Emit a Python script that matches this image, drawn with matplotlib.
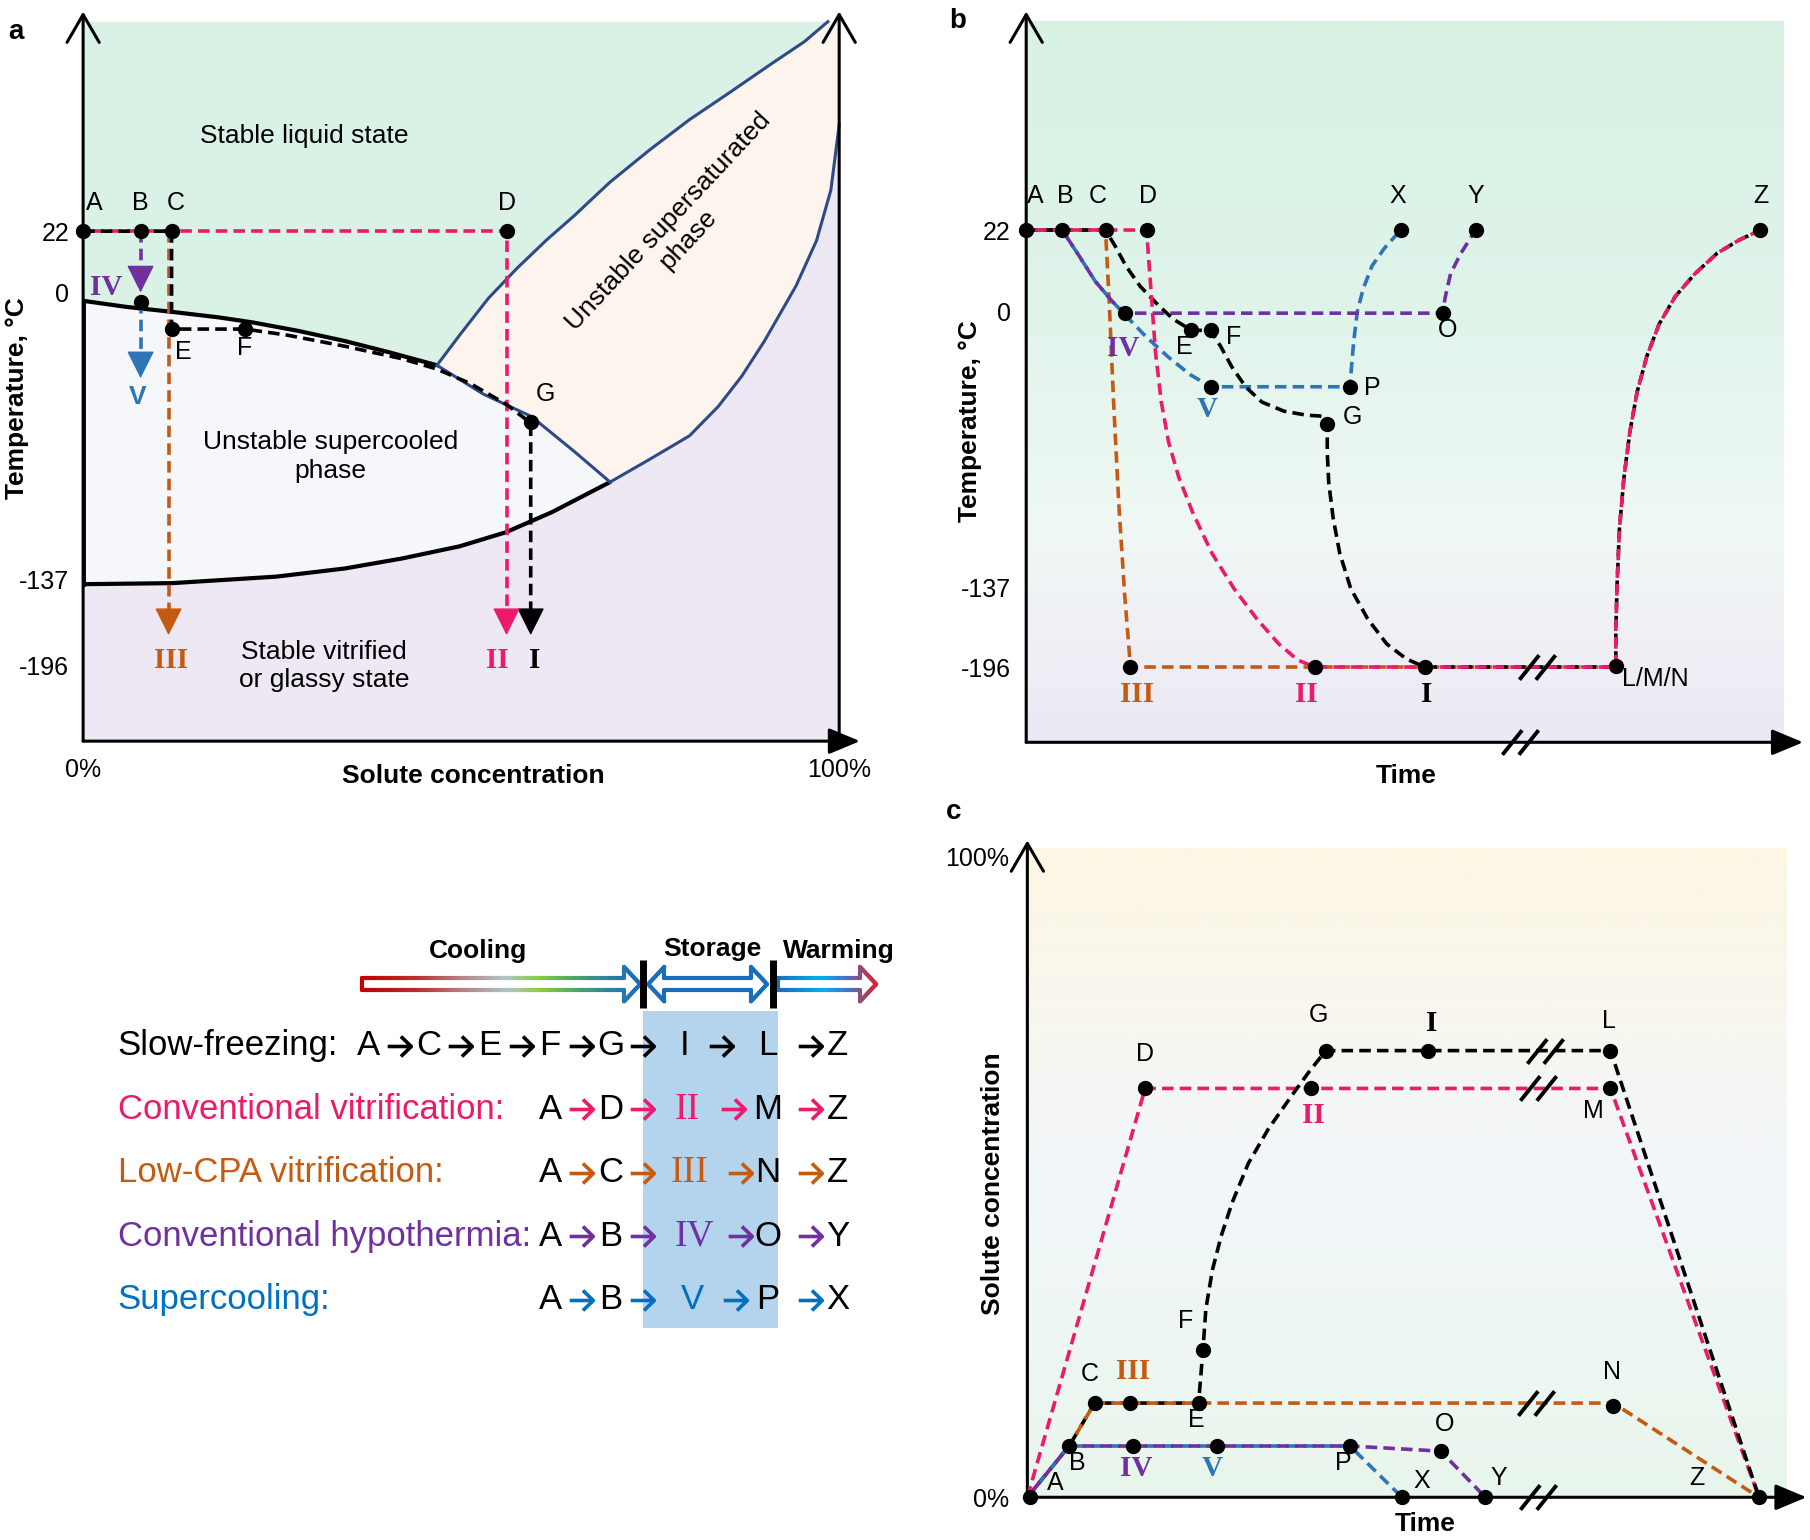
import numpy as np
import matplotlib.pyplot as plt
from matplotlib.collections import LineCollection
from matplotlib.colors import LinearSegmentedColormap
from matplotlib.patches import Rectangle
from matplotlib.path import Path

plt.rcParams['font.family'] = ['Liberation Sans', 'DejaVu Sans']
SERIF = ['Liberation Serif', 'DejaVu Serif']

PINK = '#ec1a6a'
ORANGE = '#c55a11'
PURPLE = '#7030a0'
BLUE = '#2e75b6'
TXTBLUE = '#0070c0'
EDGE = '#2e4a87'

TEMP_TICKS = [22, 0, -137, -196]

# ---------------- a: phase diagram (solute %, deg C) ----------------
a_anchor_T = [-250, -196, -137, 0, 22, 100]
a_anchor_h = [0, 0.103, 0.222, 0.615, 0.699, 1.0]

liq_x = [0, 5.7, 11.8, 17.9, 22.4, 28.5, 34.6, 40.7, 46.8]
liq_T = [-4.0, -6.9, -9.3, -11.9, -14.3, -18.4, -23.2, -28.8, -34.8]
satlo_x = [46.8, 52.9, 59.3, 65.0, 69.7]
satlo_T = [-34.8, -48.5, -59.3, -76.1, -90.6]
satl_x = [46.8, 49.8, 53.6, 57.4, 61.2, 65.0, 69.6, 74.9, 80.2, 85.6, 90.9, 95.4, 98.5]
satl_T = [-34.8, -20.4, -2.8, 8.7, 18.6, 27.6, 39.2, 50.8, 61.6, 71.4, 81.2, 89.3, 96.4]
satr_x = [69.7, 74.9, 80.2, 84.0, 87.1, 90.1, 94.3, 97.0, 98.9, 100, 100]
satr_T = [-90.6, -79.8, -68.5, -54.5, -40.1, -23.3, 2.4, 18.6, 36.6, 59.8, 96.4]
glass_x = [0, 11.8, 25.5, 34.6, 42.2, 49.8, 55.9, 62.0, 69.7]
glass_T = [-140.4, -139.7, -135.8, -131.9, -127.1, -121.3, -114.6, -105, -90.6]
a_top = 96.4
a_bottom = -250

a_pts_x = [0, 7.6, 11.7, 56.0, 7.6, 11.7, 21.4, 59.2]
a_pts_T = [22, 22, 22, 22, -4.5, -17.5, -17.5, -62]

a_slow_x = [0, 11.7, 11.7, 21.4, 27.0, 34.6, 42.2, 46.8, 51.3, 55.9, 59.2, 59.2]
a_slow_T = [22, 22, -17.5, -17.5, -20.4, -25.7, -31.7, -36.6, -43.7, -53.3, -62.4, -165]
a_vit_x = [0, 56.0, 56.0]
a_vit_T = [22, 22, -165]
a_cpa_x = [11.3, 11.3]
a_cpa_T = [22, -165]
a_hypo_x = [7.6, 7.6]
a_hypo_T = [22, 6]
a_sup_x = [7.6, 7.6]
a_sup_T = [-4.5, -32]
a_tip_x = [59.2, 56.0, 11.3, 7.6, 7.6]
a_tip_T = [-175, -175, -175, 0, -41]
a_tip_c = ['k', PINK, ORANGE, PURPLE, BLUE]

a_letters = [('A', 1.5, 32), ('B', 7.6, 32), ('C', 12.2, 32), ('D', 56, 32),
             ('E', 13.3, -28.6), ('F', 21.4, -26.5), ('G', 61.2, -48.5)]
a_romans = [('IV', 3.0, 1.8, PURPLE), ('III', 11.6, -192.5, ORANGE),
            ('II', 54.8, -192.5, PINK), ('I', 59.7, -192.5, 'k')]

# ---------------- b: temperature vs time ----------------
b_anchor_T = [-250, -196, -137, 0, 22, 80]
b_anchor_h = [0, 0.103, 0.212, 0.59, 0.701, 1.0]

b_warm_t = [80.3, 80.3, 80.5, 80.8, 81.4, 82.2, 83.2, 84.5, 86.2, 88.4, 91.1, 94.1, 97.1, 100]
b_warm_T = [-196, -167.7, -132.6, -107.6, -82.6, -60.1, -40.1, -22.6, -6.4, 4.0, 10.2, 15.7,
            19.3, 22]
b_slow_t = ([0, 4.9, 10.8, 12.1, 13.6, 15.5, 17.8, 20.0, 22.5, 25.1, 26.5, 28.0, 29.9, 32.1,
             35.1, 38.2, 40.4, 41.0, 41.0, 41.2, 41.8, 42.7, 44.2, 46.5, 49.1, 51.8, 54.3]
            + b_warm_t)
b_slow_T = ([22, 22, 22, 17.7, 12.2, 6.8, 2.0, -3.9, -9.5, -9.5, -17.6, -27.6, -37.6, -45.1,
             -49.6, -51.6, -52.1, -55.8, -69.9, -85, -102.6, -120.1, -137.9, -160.3, -178.9,
             -190.1, -196] + b_warm_T)
b_vit_t = ([0, 16.4, 16.7, 17.1, 17.6, 18.4, 19.4, 20.8, 22.7, 25.3, 28.3, 31.4, 34.4, 37.0,
            39.3] + b_warm_t)
b_vit_T = ([22, 22, 13.6, 2.7, -20.1, -45.1, -65.1, -82.6, -100.1, -120.1, -137.9, -160.3,
            -178.9, -190.9, -196] + b_warm_T)
b_cpa_t = [0, 10.8, 11.3, 11.9, 12.6, 13.4, 14.2, 80.3]
b_cpa_T = [22, 22, 2.7, -45.1, -95, -141.7, -196, -196]
b_hypo_t = [0, 4.9, 7.2, 9.4, 11.7, 13.5, 56.7, 57.1, 57.8, 59.2, 61.2]
b_hypo_T = [22, 22, 15.0, 8.1, 2.7, -1, -1, 4.1, 10.2, 15.7, 22]
b_sup_t = [0, 4.9, 7.2, 9.4, 11.7, 14.0, 16.3, 19.3, 22.3, 25.1, 44.1, 44.3, 44.6, 45.1,
           45.9, 47.1, 48.8, 51.0]
b_sup_T = [22, 22, 15.0, 8.1, 2.7, -3.9, -12.6, -22.6, -31.4, -37.5, -37.5, -27.6, -15.1, 0,
           6.1, 12.3, 17.1, 22]

b_pts_t = [0, 4.9, 10.8, 16.4, 51.0, 61.2, 100, 56.7, 13.5, 22.5, 25.1, 25.1, 44.1, 41.0,
           14.2, 39.3, 54.3, 80.3]
b_pts_T = [22, 22, 22, 22, 22, 22, 22, -1, -1, -9.5, -9.5, -37.5, -37.5, -55.8,
           -196, -196, -196, -195]
b_letters = [('A', 1.3, 31), ('B', 5.3, 31), ('C', 9.8, 31), ('D', 16.6, 31), ('X', 50.6, 31),
             ('Y', 61.2, 31), ('Z', 100, 31), ('O', 57.4, -9.4), ('E', 21.5, -17.7),
             ('F', 28.2, -13), ('P', 47.1, -38), ('G', 44.4, -52.5)]
b_romans = [('IV', 13.2, -18.4, PURPLE), ('V', 24.7, -48.7, BLUE), ('III', 15.1, -215.7, ORANGE),
            ('II', 38.2, -215.7, PINK), ('I', 54.6, -215.7, 'k')]
b_breaks_t = [69.5, 67.3]
b_breaks_T = [-196, -250]

# ---------------- c: solute concentration vs time ----------------
c_slow_t = [0, 5.7, 9.2, 23.4, 24.0, 24.4, 25.3, 26.5, 28.0, 30.2, 32.9, 35.9, 38.5, 40.8, 79.7, 100]
c_slow_c = [0, 8.0, 14.7, 14.7, 23.0, 29.4, 35.5, 40.8, 46.0, 52.1, 57.4, 62.3, 66.4, 69.7, 69.7, 0]
c_vit_t = [0, 16.1, 79.7, 100]
c_vit_c = [0, 63.8, 63.8, 0]
c_cpa_t = [0, 5.7, 9.2, 80.1, 100]
c_cpa_c = [0, 8.0, 14.7, 14.7, 0]
c_hypo_t = [0, 5.7, 44.1, 56.5, 62.6]
c_hypo_c = [0, 8.0, 8.0, 7.2, 0]
c_sup_t = [0, 5.7, 44.1, 51.2]
c_sup_c = [0, 8.0, 8.0, 0]

c_pts_t = [0.4, 5.7, 9.2, 14.0, 23.4, 24.0, 40.8, 54.8, 79.7, 16.1, 38.8, 79.7, 80.1,
           14.5, 25.9, 44.1, 56.5, 51.2, 62.6, 100]
c_pts_c = [0, 8.0, 14.7, 14.7, 14.7, 23.0, 69.7, 69.7, 69.7, 63.8, 63.8, 63.8, 14.3,
           8.0, 8.0, 8.0, 7.2, 0, 0, 0]
c_letters = [('D', 16.1, 69.1), ('G', 39.8, 75.3), ('L', 79.5, 74.3), ('M', 77.3, 60.2),
             ('F', 21.7, 27.5), ('C', 8.5, 19.2), ('E', 23.1, 12.1), ('N', 79.9, 19.6),
             ('O', 57.1, 11.5), ('B', 6.8, 5.3), ('A', 3.8, 2.3), ('P', 43.2, 5.3),
             ('X', 53.9, 2.6), ('Y', 64.5, 3.0), ('Z', 91.5, 3.0)]
c_romans = [('II', 39.1, 59.6, PINK), ('I', 55.2, 74.0, 'k'), ('III', 14.5, 19.6, ORANGE),
            ('IV', 14.9, 4.5, PURPLE), ('V', 25.2, 4.5, BLUE)]
c_breaks_t = [70.7, 69.8, 69.5, 69.8]
c_breaks_c = [69.7, 63.8, 14.7, 0]

# ---------------- legend rows ----------------
ROW_NAMES = ['Slow-freezing:', 'Conventional vitrification:', 'Low-CPA vitrification:',
             'Conventional hypothermia:', 'Supercooling:']
ROW_COLORS = ['black', PINK, ORANGE, PURPLE, TXTBLUE]
ROW_PRE = ['ACEFG', 'AD', 'AC', 'AB', 'AB']
ROW_STORE = ['I', 'II', 'III', 'IV', 'V']
ROW_STORE_SERIF = [False, True, True, True, False]
ROW_END = ['L', 'M', 'N', 'O', 'P']
ROW_FINAL = ['Z', 'Z', 'Z', 'Y', 'X']

W, H = 1568, 1334  # layout grid (reference pixels)
DASH = (3.2, 1.7)


def px_rect(x0, y0, x1, y1):
    return [x0 / W, 1 - y1 / H, (x1 - x0) / W, (y1 - y0) / H]


def temp_axis(ax, anchor_T, anchor_h):
    tT = np.asarray(anchor_T, float)
    th = np.asarray(anchor_h, float)
    ax.set_yscale('function', functions=(lambda v: np.interp(v, tT, th),
                                         lambda h: np.interp(h, th, tT)))
    ax.set_ylim(tT[0], tT[-1])


def style(ax, xlim):
    for s in ax.spines.values():
        s.set_visible(False)
    ax.set_xlim(*xlim)
    ax.patch.set_visible(False)
    ax.tick_params(length=0, labelsize=18)


def axis_arrows(ax):
    kw = dict(xycoords='axes fraction', textcoords='axes fraction', annotation_clip=False)
    ax.annotate('', xy=(1, 0), xytext=(0, 0), arrowprops=dict(
        arrowstyle='-|>,head_length=1.2,head_width=0.5', mutation_scale=16, lw=2.2,
        color='k', shrinkA=0, shrinkB=0), **kw)
    ax.annotate('', xy=(0, 1), xytext=(0, 0), arrowprops=dict(
        arrowstyle='->,head_length=1.0,head_width=0.58', mutation_scale=20, lw=2.2,
        color='k', shrinkA=0, shrinkB=0), **kw)


def dline(ax, x, y, color, alt=False, z=3):
    ax.plot(x, y, color=color, lw=2.6, ls=(2.45 if alt else 0, DASH), zorder=z,
            dash_capstyle='butt', clip_on=False)


def dots(ax, x, y):
    ax.plot(x, y, 'o', color='k', ms=10, zorder=6, clip_on=False)


def gradient_bg(rect, stops, ext):
    bg = fig.add_axes(rect, zorder=0)
    cmap = LinearSegmentedColormap.from_list('bg', stops)
    bg.imshow(np.linspace(0, 1, 256)[:, None], cmap=cmap, origin='lower', aspect='auto',
              extent=[0, ext[0], 0, ext[1]], interpolation='bilinear')
    bg.set_xlim(0, 1)
    bg.set_ylim(0, 1)
    bg.axis('off')


BREAK = Path([(-1.47, -1), (0.13, 1), (-0.13, -1), (1.47, 1)],
             [Path.MOVETO, Path.LINETO, Path.MOVETO, Path.LINETO])
ARROW = Path([(-1, 0), (0.92, 0), (0.12, 0.85), (1, 0), (0.12, -0.85)],
             [Path.MOVETO, Path.LINETO, Path.MOVETO, Path.LINETO, Path.LINETO])


def breaks(ax, x, y):
    ax.plot(x, y, ls='', marker=BREAK, ms=26, mew=2.8, mec='k', mfc='none', zorder=7,
            clip_on=False)


def label(ax, s, x, y, color='k', roman=False, size=18, **kw):
    if roman:
        ax.text(x, y, s, color=color, fontsize=21, family=SERIF, fontweight='bold',
                ha='center', va='center', zorder=8, **kw)
    else:
        ax.text(x, y, s, color=color, fontsize=size, ha='center', va='center', zorder=8, **kw)


fig = plt.figure(figsize=(18.1, 15.4), dpi=100)

# ================= panel a =================
rect_a = px_rect(72, 10, 745, 642)
ax = fig.add_axes(rect_a, zorder=1)
temp_axis(ax, a_anchor_T, a_anchor_h)
style(ax, (0, 102.75))

green_x = [0, 0] + satl_x[::-1] + liq_x[::-1]
green_T = [liq_T[0], a_top] + satl_T[::-1] + liq_T[::-1]
peach_x = satl_x + satr_x[::-1] + satlo_x[::-1]
peach_T = satl_T + satr_T[::-1] + satlo_T[::-1]
cool_x = liq_x + satlo_x + glass_x[::-1]
cool_T = liq_T + satlo_T + glass_T[::-1]
glassy_x = glass_x + satr_x + [100, 0]
glassy_T = glass_T + satr_T + [a_bottom, a_bottom]
ax.fill(green_x, green_T, color='#d9f2e5', lw=0, zorder=0)
ax.fill(peach_x, peach_T, color='#fdf4ee', lw=0, zorder=0)
ax.fill(cool_x, cool_T, color='#f6f7fb', lw=0, zorder=0)
ax.fill(glassy_x, glassy_T, color='#ede8f3', lw=0, zorder=0)

ax.plot(liq_x, liq_T, color='k', lw=3, zorder=2, solid_capstyle='round')
ax.plot(glass_x, glass_T, color='k', lw=3, zorder=2, solid_capstyle='round')
ax.plot([0, 0], [liq_T[0], glass_T[0]], color='k', lw=3.5, zorder=2)
ax.plot(satl_x, satl_T, color=EDGE, lw=2.2, zorder=2)
ax.plot(satlo_x, satlo_T, color=EDGE, lw=2.2, zorder=2)
ax.plot(satr_x[:-1], satr_T[:-1], color=EDGE, lw=2.2, zorder=2)
ax.annotate('', xy=(100, 1), xytext=(100, 0), xycoords=('data', 'axes fraction'),
            textcoords=('data', 'axes fraction'), annotation_clip=False,
            arrowprops=dict(arrowstyle='->,head_length=1.0,head_width=0.58', mutation_scale=20,
                            lw=2.2, color='k', shrinkA=0, shrinkB=0))
axis_arrows(ax)

dline(ax, a_cpa_x, a_cpa_T, ORANGE)
dline(ax, a_vit_x, a_vit_T, PINK, alt=True)
dline(ax, a_slow_x, a_slow_T, 'k')
dline(ax, a_hypo_x, a_hypo_T, PURPLE)
dline(ax, a_sup_x, a_sup_T, BLUE)
for x, t, c in zip(a_tip_x, a_tip_T, a_tip_c):
    ax.annotate('', xy=(x, t), xytext=(0, 17), textcoords='offset points',
                arrowprops=dict(arrowstyle='-|>,head_length=1.1,head_width=0.55',
                                mutation_scale=16, color=c, lw=1, shrinkA=0, shrinkB=0),
                zorder=6)
dots(ax, a_pts_x, a_pts_T)

for s, x, t in a_letters:
    label(ax, s, x, t)
for s, x, t, c in a_romans:
    label(ax, s, x, t, c, roman=True)
label(ax, 'V', 7.2, -49.8, BLUE, size=19, fontweight='bold')
label(ax, 'Stable liquid state', 29.3, 55.9, size=19)
label(ax, 'Unstable supercooled\nphase', 32.7, -78.4, size=19, linespacing=1.25)
label(ax, 'Stable vitrified\nor glassy state', 31.9, -196, size=19, linespacing=1.25)
label(ax, 'Unstable supersaturated\nphase', 78.7, 22.3, size=19, rotation=47,
      linespacing=1.15)

ax.set_yticks(TEMP_TICKS, [str(t) for t in TEMP_TICKS])
ax.set_xticks([0, 100], ['0%', '100%'])
ax.tick_params(axis='y', pad=10)
ax.tick_params(axis='x', pad=12)

# ================= panel b =================
rect_b = px_rect(889, 10, 1562, 643)
gradient_bg(rect_b, [(0, '#ece8f4'), (0.12, '#efeef5'), (0.3, '#eff8f4'), (0.6, '#e0f4ea'),
                     (1, '#d8f2e4')], (0.975, 0.986))
ax = fig.add_axes(rect_b, zorder=1)
temp_axis(ax, b_anchor_T, b_anchor_h)
style(ax, (0, 105.8))
axis_arrows(ax)

dline(ax, b_cpa_t, b_cpa_T, ORANGE)
dline(ax, b_sup_t, b_sup_T, BLUE)
dline(ax, b_hypo_t, b_hypo_T, PURPLE, alt=True)
dline(ax, b_slow_t, b_slow_T, 'k')
dline(ax, b_vit_t, b_vit_T, PINK, alt=True)
dots(ax, b_pts_t, b_pts_T)
breaks(ax, b_breaks_t, b_breaks_T)

for s, x, t in b_letters:
    label(ax, s, x, t)
for s, x, t, c in b_romans:
    label(ax, s, x, t, c, roman=True)
ax.text(81.1, -204.8, 'L/M/N', fontsize=18, ha='left', va='center')

ax.set_yticks(TEMP_TICKS, [str(t) for t in TEMP_TICKS])
ax.set_xticks([])
ax.tick_params(axis='y', pad=11)

# ================= panel c =================
rect_c = px_rect(890, 728, 1565, 1297)
gradient_bg(rect_c, [(0, '#e8f5ec'), (0.25, '#eef7f3'), (0.5, '#f2f6fa'), (0.75, '#f8f6ee'),
                     (1, '#fdf6e3')], (0.975, 0.988))
ax = fig.add_axes(rect_c, zorder=1)
style(ax, (0, 106.5))
ax.set_ylim(0, 102.5)
axis_arrows(ax)

dline(ax, c_vit_t, c_vit_c, PINK)
dline(ax, c_slow_t, c_slow_c, 'k')
dline(ax, c_cpa_t, c_cpa_c, ORANGE, alt=True)
dline(ax, c_sup_t, c_sup_c, BLUE)
dline(ax, c_hypo_t, c_hypo_c, PURPLE, alt=True)
dots(ax, c_pts_t, c_pts_c)
breaks(ax, c_breaks_t, c_breaks_c)

for s, x, v in c_letters:
    label(ax, s, x, v)
for s, x, v, c in c_romans:
    label(ax, s, x, v, c, roman=True)

ax.set_yticks([0, 100], ['0%', '100%'])
ax.set_xticks([])
ax.tick_params(axis='y', pad=13)

# ================= overlay: titles + legend =================
ov = fig.add_axes([0, 0, 1, 1], zorder=5)
ov.set_xlim(0, W)
ov.set_ylim(H, 0)
ov.axis('off')

for s, x, y in [('a', 14, 28), ('b', 830, 18), ('c', 826, 703)]:
    ov.text(x, y, s, fontsize=20, fontweight='bold', ha='center', va='center')
ov.text(15, 345, 'Temperature, °C', rotation=90, fontsize=19, fontweight='bold',
        ha='center', va='center')
ov.text(840, 365, 'Temperature, °C', rotation=90, fontsize=19, fontweight='bold',
        ha='center', va='center')
ov.text(410, 672, 'Solute concentration', fontsize=19, fontweight='bold',
        ha='center', va='center')
ov.text(860, 1025, 'Solute concentration', rotation=90, fontsize=19, fontweight='bold',
        ha='center', va='center')
ov.text(1218, 672, 'Time', fontsize=19, fontweight='bold', ha='center', va='center')
ov.text(1235, 1320, 'Time', fontsize=19, fontweight='bold', ha='center', va='center')


def outline(ax, pts, cmap, x0, x1, lw=3):
    segs, cols = [], []
    for (xa, ya), (xb, yb) in zip(pts[:-1], pts[1:]):
        n = max(2, int(abs(xb - xa) / 1.5) + 2)
        xs, ys = np.linspace(xa, xb, n), np.linspace(ya, yb, n)
        for i in range(n - 1):
            segs.append([(xs[i], ys[i]), (xs[i + 1], ys[i + 1])])
            cols.append(cmap((0.5 * (xs[i] + xs[i + 1]) - x0) / (x1 - x0)))
    ax.add_collection(LineCollection(segs, colors=cols, linewidths=lw, capstyle='round',
                                     joinstyle='round'))


def arrow_pts(x0, x1, yc, hb=5.5, hh=15, hl=14, double=False):
    if double:
        return [(x0, yc), (x0 + hl, yc - hh), (x0 + hl, yc - hb), (x1 - hl, yc - hb),
                (x1 - hl, yc - hh), (x1, yc), (x1 - hl, yc + hh), (x1 - hl, yc + hb),
                (x0 + hl, yc + hb), (x0 + hl, yc + hh), (x0, yc)]
    return [(x0, yc - hb), (x1 - hl, yc - hb), (x1 - hl, yc - hh), (x1, yc),
            (x1 - hl, yc + hh), (x1 - hl, yc + hb), (x0, yc + hb), (x0, yc - hb)]


cool_cm = LinearSegmentedColormap.from_list('cool', [
    (0, '#c00000'), (0.2, '#b83030'), (0.35, '#b48080'), (0.52, '#aec6c8'),
    (0.64, '#8ccc3c'), (0.78, '#4aa070'), (0.9, '#2a7ea0'), (1, '#1a6eb9')])
store_cm = LinearSegmentedColormap.from_list('store', ['#1a6eb9', '#1a6eb9'])
warm_cm = LinearSegmentedColormap.from_list('warm', [
    (0, '#1a6eb9'), (0.45, '#00b0f0'), (0.72, '#4a70c0'), (1, '#e0202c')])

yc = 852.5
outline(ov, arrow_pts(313.6, 554.6, yc), cool_cm, 313.6, 554.6)
outline(ov, arrow_pts(561.5, 664.5, yc, double=True), store_cm, 561.5, 664.5)
outline(ov, arrow_pts(673.6, 759, yc), warm_cm, 673.6, 759)
for xb in (557, 670):
    ov.plot([xb, xb], [832, 873], color='k', lw=5, solid_capstyle='butt')
for s, x, y in [('Cooling', 414, 824), ('Storage', 617, 822), ('Warming', 727, 824)]:
    ov.text(x, y, s, fontsize=19, fontweight='bold', ha='center', va='center')

ov.add_patch(Rectangle((557, 876), 116.6, 274, color='#b4d3ec', lw=0, zorder=0))

# token columns of the route rows
PRE_LETTER_X, PRE_ARROW_X, PRE_PITCH = 529, 556, 52.5
STORE_X = [593, 595, 597, 602, 600]
MID_ARROW_X = [625, 635, 641, 641, 637]
END_X, LAST_ARROW_X, FINAL_X = 665, 701.5, 725.5


def route_arrow(x, y, color):
    ov.plot([x], [y], ls='', marker=ARROW, ms=17, mew=2.6, mec=color, mfc='none')


for row in range(len(ROW_NAMES)):
    y = 906 + 55 * row
    col = ROW_COLORS[row]
    acol = 'k' if row == 0 else col
    ov.text(102, y, ROW_NAMES[row], color=col, fontsize=25, ha='left', va='center')
    pre = ROW_PRE[row]
    for i, ch in enumerate(pre):
        k = len(pre) - 1 - i
        ov.text(PRE_LETTER_X - PRE_PITCH * k, y, ch, color='k', fontsize=25,
                ha='center', va='center')
        route_arrow(PRE_ARROW_X - PRE_PITCH * k, y, acol)
    if ROW_STORE_SERIF[row]:
        ov.text(STORE_X[row], y, ROW_STORE[row], color=col, fontsize=27, family=SERIF,
                ha='center', va='center')
    else:
        ov.text(STORE_X[row], y, ROW_STORE[row], color=col, fontsize=25,
                ha='center', va='center')
    route_arrow(MID_ARROW_X[row], y, acol)
    ov.text(END_X, y, ROW_END[row], color='k', fontsize=25, ha='center', va='center')
    route_arrow(LAST_ARROW_X, y, acol)
    ov.text(FINAL_X, y, ROW_FINAL[row], color='k', fontsize=25, ha='center', va='center')

fig.savefig('out.png', dpi=100)
